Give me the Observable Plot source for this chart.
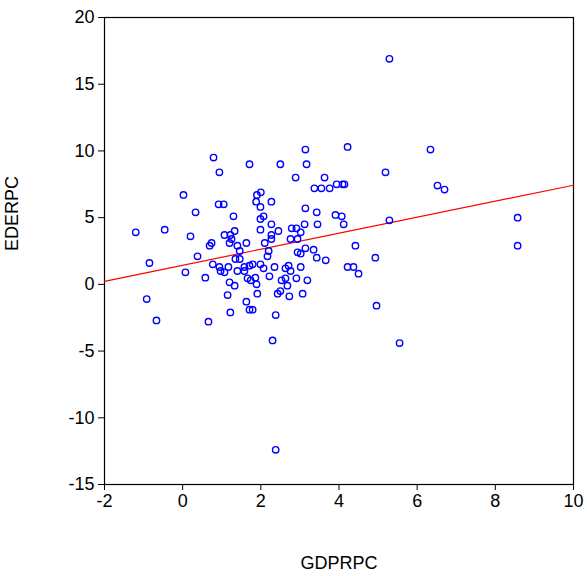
<!DOCTYPE html>
<html><head><meta charset="utf-8">
<script src="https://cdn.jsdelivr.net/npm/d3@7"></script>
<script src="https://cdn.jsdelivr.net/npm/@observablehq/plot@0.6"></script>
<style>body{margin:0;background:#fff}</style>
</head><body><div id="chart"></div>
<script>
// GDPRPC values
const gdprpc = [5.29,4.22,6.34,3.14,0.79,1.71,2.5,3.17,0.94,5.19,2.89,3.63,3.76,3.37,3.55,3.94,4.09,4.14,6.52,6.7,
  0.02,0.92,1.05,1.9,2.0,1.88,2.27,0.33,1.3,2.07,3.14,3.43,3.91,4.07,5.29,8.57,8.57,-1.2,-0.46,0.2,
  -0.85,-0.92,-0.67,0.07,0.38,0.58,0.66,0.69,0.74,0.77,0.94,0.97,1.07,1.07,1.22,1.25,1.2,1.33,1.4,1.46,
  1.17,1.4,1.35,1.46,1.63,1.2,1.33,1.15,1.22,1.58,1.71,1.79,1.58,1.66,1.74,1.63,1.71,1.79,1.99,2.27,
  1.99,2.27,2.27,2.1,2.45,2.2,2.17,1.86,1.89,1.99,2.07,2.22,2.35,1.91,2.38,2.3,2.38,2.79,2.91,3.02,
  2.76,2.94,3.12,3.45,2.94,3.02,3.14,3.35,3.43,3.66,2.63,2.71,2.76,2.63,2.53,2.68,2.91,3.02,2.43,2.5,
  2.73,3.07,3.19,4.12,4.42,4.22,4.37,4.5,4.93,4.96,5.55,1.99];
// EDERPC values
const ederpc = [16.9,10.3,10.1,10.1,9.5,9.0,9.0,9.0,8.4,8.4,8.0,8.0,7.2,7.2,7.2,7.5,7.5,7.5,7.4,7.1,
  6.7,6.0,6.0,6.7,6.9,6.2,6.2,5.4,5.1,5.1,5.7,5.4,5.2,5.1,4.8,5.0,2.9,3.9,4.1,3.6,
  1.6,-1.1,-2.7,0.9,2.1,0.5,-2.8,2.9,3.1,1.5,1.3,1.0,0.9,3.7,3.7,3.4,3.1,4.0,2.9,2.5,
  1.3,1.0,1.9,1.9,3.1,0.15,-0.1,-0.8,-2.1,1.3,1.4,1.5,1.0,0.45,0.3,-1.3,-1.9,-1.9,5.8,4.5,
  4.1,3.7,3.4,3.1,4.0,2.5,2.1,0.5,0.0,1.5,1.2,0.6,1.3,-0.7,-2.3,-4.2,-12.4,4.2,4.2,3.9,
  3.4,3.4,4.5,4.5,2.4,2.3,2.7,2.6,2.0,1.8,1.2,1.4,1.0,0.45,0.3,-0.1,0.45,1.3,-0.7,-0.5,
  -0.9,-0.7,0.3,4.5,2.9,1.3,1.3,0.8,2.0,-1.6,-4.4,4.9];
// fitted line: EDERPC = a + b * GDPRPC
const fitA = 1.43, fitB = 0.60;
const xRange = [-2, 10];
const xTicks = [-2, 0, 2, 4, 6, 8, 10];
const yTicks = [-15, -10, -5, 0, 5, 10, 15, 20];

const points = gdprpc.map((g, i) => ({g, e: ederpc[i]}));
const fit = xRange.map(g => ({g, e: fitA + fitB * g}));

const chart = Plot.plot({
  width: 587, height: 576,
  marginLeft: 104, marginRight: 14, marginTop: 17, marginBottom: 92,
  style: {fontFamily: "Liberation Sans, Arial, sans-serif", fontSize: "18px", color: "#000"},
  x: {domain: xRange},
  y: {domain: [-15, 20]},
  marks: [
    Plot.frame({stroke: "#000", strokeWidth: 1.2}),
    Plot.axisX({ticks: xTicks, tickFormat: d => String(d), tickSize: 6, tickPadding: 4, label: null, fontSize: 18}),
    Plot.axisY({ticks: yTicks, tickFormat: d => String(d), tickSize: 6, tickPadding: 4, label: null, fontSize: 18}),
    Plot.line(fit, {x: "g", y: "e", stroke: "red", strokeWidth: 1.2}),
    Plot.dot(points, {x: "g", y: "e", r: 3.2, stroke: "blue", strokeWidth: 1.4}),
    Plot.text(["GDPRPC"], {frameAnchor: "bottom", dy: 84, text: d => d, fontSize: 18}),
    Plot.text(["EDERPC"], {frameAnchor: "left", dx: -92, rotate: -90, text: d => d, fontSize: 18})
  ]
});
d3.select('#chart').append(() => chart);
</script></body></html>
